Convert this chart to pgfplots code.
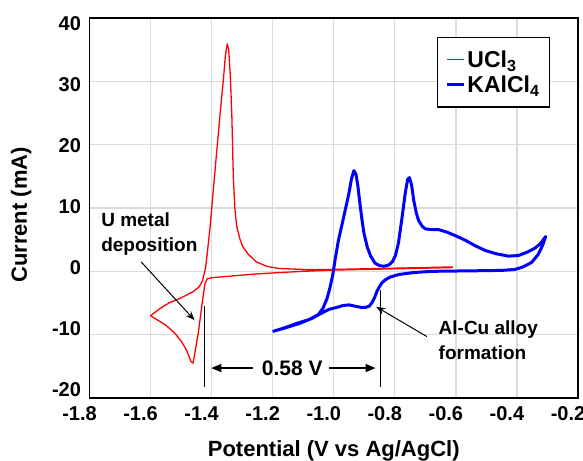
\documentclass[border=0pt]{standalone}
\usepackage{fontspec}
\setmainfont{Liberation Sans}
\usepackage{pgfplots}
\pgfplotsset{compat=1.18}
\usetikzlibrary{arrows.meta}

\newcommand{\fs}[1]{\fontsize{#1bp}{#1bp}\selectfont\bfseries}
\newcommand{\up}[2]{\raisebox{#1bp}[\height][\depth]{\textbf{#2}}}

\begin{document}
\begin{tikzpicture}
\begin{axis}[
    at={(89.5bp,63bp)}, anchor=south west,
    scale only axis,
    width=488.5bp, height=380bp,
    xmin=-1.8, xmax=-0.2,
    ymin=-20, ymax=40,
    xtick={-1.8,-1.6,-1.4,-1.2,-1.0,-0.8,-0.6,-0.4,-0.2},
    xticklabels={\textbf{-1.8},\textbf{-1.6},\textbf{-1.4},\textbf{-1.2},\textbf{-1.0},\textbf{-0.8},\textbf{-0.6},\textbf{-0.4},\textbf{-0.2}},
    ytick={-20,-10,0,10,20,30,40},
    yticklabels={\up{8}{-20},\up{5.7}{-10},\up{3.3}{0},\up{1}{10},\up{-1.3}{20},\up{-3.7}{30},\up{-6}{40}},
    major tick length=0pt,
    grid=major,
    grid style={black!14, line width=1.3bp},
    axis line style={line width=1.3bp},
    ticklabel style={font=\fs{20}, text=black},
    xticklabel style={yshift=-5bp, xshift=-10bp},
    yticklabel style={xshift=-5bp},
    xlabel={Potential (V vs Ag/AgCl)},
    ylabel={Current (mA)},
    label style={font=\fs{22}},
    xlabel style={at={(axis description cs:0.5,-0.153)}, anchor=base},
    ylabel style={at={(axis description cs:-0.14,0.4816)}, anchor=center},
    legend style={at={(0.711,0.95)}, anchor=north west, draw=black,
        line width=1.3bp, font=\fs{23},
        inner xsep=8bp, inner ysep=11bp, row sep=3bp},
    legend cell align=left,
    legend image code/.code={\draw[#1] (0bp,0bp) -- (17bp,0bp);},
]
\addplot[red, line width=1.3bp, line join=round] coordinates {
(-0.61,0.6) (-0.70,0.5) (-0.80,0.4) (-0.90,0.3) (-1.00,0.2) (-1.10,0.0)
(-1.18,-0.2) (-1.25,-0.4) (-1.30,-0.6) (-1.35,-0.8) (-1.40,-1.0) (-1.415,-1.2)
(-1.422,-2) (-1.428,-4) (-1.435,-6.5) (-1.443,-9.5) (-1.45,-11.5) (-1.456,-13.2)
(-1.461,-14.5) (-1.467,-14.3) (-1.475,-13.3) (-1.485,-12.2) (-1.50,-11.0)
(-1.52,-9.8) (-1.55,-8.5) (-1.58,-7.6) (-1.60,-7.0)
(-1.57,-5.9) (-1.54,-5.0) (-1.505,-4.3) (-1.48,-3.7) (-1.46,-3.2) (-1.44,-2.4)
(-1.43,-1.5) (-1.42,0.5) (-1.415,2.5) (-1.405,7) (-1.396,12) (-1.385,18)
(-1.372,25) (-1.362,30) (-1.355,34) (-1.349,35.9) (-1.344,35) (-1.339,31)
(-1.334,25) (-1.329,15) (-1.324,10) (-1.318,7.2) (-1.308,5.2) (-1.298,3.9)
(-1.28,2.7) (-1.254,1.5) (-1.22,0.8) (-1.18,0.45) (-1.1,0.3) (-1.0,0.3)
(-0.9,0.4) (-0.8,0.5) (-0.7,0.6) (-0.61,0.7)
};
\addlegendentry{UCl\textsubscript{3}}
\addplot[blue, line width=3bp, line join=round] coordinates {
(-1.20,-9.5) (-1.16,-8.9) (-1.12,-8.2) (-1.08,-7.6) (-1.05,-6.8) (-1.035,-5.8)
(-1.022,-4.3) (-1.012,-2.5) (-1.003,-0.5) (-0.995,2.0) (-0.985,4.8) (-0.972,7.6)
(-0.96,10.2) (-0.95,12.4) (-0.942,14.6) (-0.934,15.9) (-0.927,15.3) (-0.921,13.5)
(-0.915,11.0) (-0.908,8.3) (-0.901,6.0) (-0.89,3.8) (-0.879,2.4) (-0.865,1.3)
(-0.85,0.9) (-0.835,0.8) (-0.82,1.0) (-0.808,1.5) (-0.798,2.5) (-0.788,4.5)
(-0.776,8.6) (-0.766,12.3) (-0.758,14.5) (-0.752,14.8) (-0.745,13.6) (-0.738,11.2)
(-0.73,9.3) (-0.722,8.0) (-0.71,7.1) (-0.70,6.7) (-0.68,6.6) (-0.657,6.6)
(-0.63,6.2) (-0.60,5.6) (-0.569,4.9) (-0.535,4.0) (-0.504,3.3) (-0.47,2.8)
(-0.428,2.4) (-0.395,2.5) (-0.363,3.1) (-0.34,3.7) (-0.325,4.3) (-0.315,4.9)
(-0.306,5.5)
(-0.315,4.2) (-0.33,2.7) (-0.352,1.4) (-0.38,0.7) (-0.406,0.3) (-0.45,0.15)
(-0.516,0.1) (-0.6,0.05) (-0.68,0.0) (-0.74,-0.2) (-0.787,-0.5) (-0.815,-0.9)
(-0.83,-1.3) (-0.842,-1.8) (-0.85,-2.4) (-0.858,-3.1) (-0.866,-4.1) (-0.874,-4.9)
(-0.884,-5.5) (-0.896,-5.7) (-0.91,-5.7) (-0.93,-5.5) (-0.95,-5.3) (-0.97,-5.4)
(-0.99,-5.7) (-1.015,-6.0) (-1.04,-6.6) (-1.07,-7.4) (-1.11,-8.2) (-1.157,-8.9)
(-1.20,-9.5)
};
\addlegendentry{KAlCl\textsubscript{4}}

% annotations
\node[font=\fs{19}, align=left, anchor=west, inner sep=0pt] at (axis cs:-1.762,5.9)
    {U metal\\[6bp]deposition};
\draw[-{Stealth[length=9bp,width=7bp]}, line width=1bp] (axis cs:-1.631,1.5) -- (axis cs:-1.456,-7.7);
\draw[line width=1.3bp] (axis cs:-1.423,-5.5) -- (axis cs:-1.423,-18.2);
\draw[line width=1.3bp] (axis cs:-0.847,-2.95) -- (axis cs:-0.847,-18.2);
\draw[-{Triangle[length=10bp,width=8bp]}, line width=1.3bp] (axis cs:-1.266,-15.27) -- (axis cs:-1.401,-15.27);
\draw[-{Triangle[length=10bp,width=8bp]}, line width=1.3bp] (axis cs:-1.015,-15.27) -- (axis cs:-0.863,-15.27);
\node[font=\fs{21}] at (axis cs:-1.136,-15.27) {0.58 V};
\draw[-{Stealth[length=9bp,width=7bp]}, line width=1bp] (axis cs:-0.695,-10.3) -- (axis cs:-0.861,-5.6);
\node[font=\fs{19}, align=left, anchor=west, inner sep=0pt] at (axis cs:-0.657,-10.9)
    {Al-Cu alloy\\[6bp]formation};
\end{axis}
\pgfresetboundingbox
\path[use as bounding box] (0,0) rectangle (583bp,461bp);
\end{tikzpicture}
\end{document}
